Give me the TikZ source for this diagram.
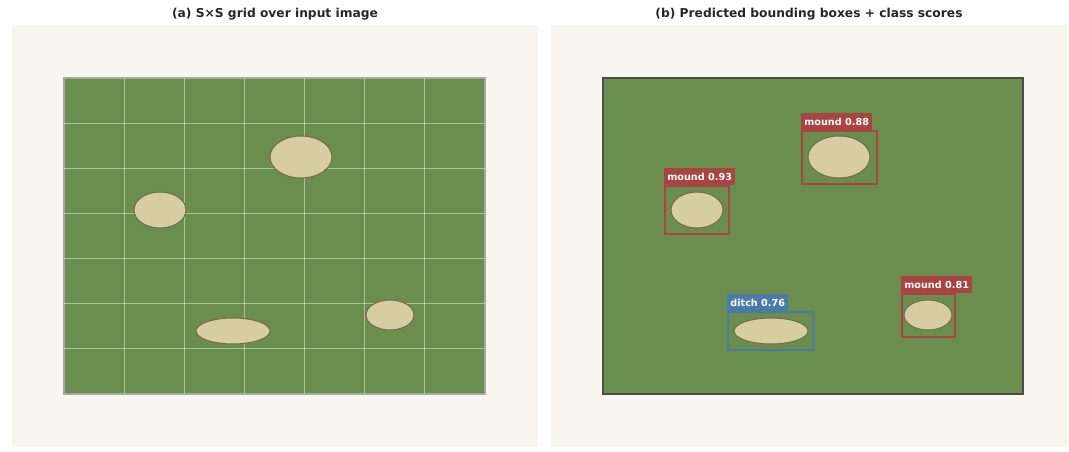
\documentclass[tikz,border=0pt]{standalone}
\usepackage{fontspec}
\setmainfont{DejaVu Sans}
\usetikzlibrary{shapes.geometric}
\definecolor{panelbg}{HTML}{F8F5EF}
\definecolor{field}{HTML}{6A8E4E}
\definecolor{moundfill}{HTML}{D6CDA4}
\definecolor{moundedge}{HTML}{7A6848}
\definecolor{redbox}{HTML}{A94442}
\definecolor{bluebox}{HTML}{4A7BA7}
\definecolor{titletext}{HTML}{262626}
\tikzset{
  panel/.style={fill=panelbg, draw=none},
  fieldbox/.style={fill=field, line width=1.2bp},
  gridline/.style={draw=white, draw opacity=0.45, line width=1.2bp},
  feat/.style={ellipse, draw=moundedge, fill=moundfill, line width=1bp, inner sep=0pt},
  det/.style={rectangle, draw=#1, line width=1.6bp, fill=none, inner sep=0pt},
  tag/.style={rectangle, fill=#1, text=white, font=\bfseries\fontsize{9.7}{11}\selectfont, inner xsep=3bp, inner ysep=0pt, minimum height=17bp, anchor=south west},
  ptitle/.style={font=\bfseries\fontsize{12.3}{14}\selectfont, text=titletext}
}
\begin{document}
\begin{tikzpicture}[x=1bp, y=-1bp]
\useasboundingbox[fill=white] (0,0) rectangle (1069,452);
% panels
\fill[panel] (12,25) rectangle (538,447);
\fill[panel] (551,25) rectangle (1068,447);
\node[ptitle] (ta) at (275,14) {(a) S×S grid over input image};
\node[ptitle] (tb) at (809,14) {(b) Predicted bounding boxes + class scores};
% panel a field
\draw[fieldbox, draw=gray!70] (64,78) rectangle (485,394);
\foreach \i in {1,...,6} {
  \draw[gridline] ({64+\i*60.14},78) -- ({64+\i*60.14},394);
  \draw[gridline] (64,{78+\i*45.14}) -- (485,{78+\i*45.14});
}
\node[feat, minimum width=62bp, minimum height=42bp] (a1) at (301,157) {};
\node[feat, minimum width=52bp, minimum height=36bp] (a2) at (160,210) {};
\node[feat, minimum width=74bp, minimum height=26bp] (a3) at (233,331) {};
\node[feat, minimum width=48bp, minimum height=30bp] (a4) at (390,315) {};
% panel b field
\draw[fieldbox, draw=black!70] (603,78) rectangle (1023,394);
\node[feat, minimum width=62bp, minimum height=42bp] (b1) at (839,157) {};
\node[feat, minimum width=52bp, minimum height=36bp] (b2) at (697,210) {};
\node[feat, minimum width=74bp, minimum height=26bp] (b3) at (771,331) {};
\node[feat, minimum width=48bp, minimum height=30bp] (b4) at (928,315) {};
% detections
\node[det=redbox, minimum width=75bp, minimum height=53bp] (d1) at (839.5,157.5) {};
\node[det=redbox, minimum width=64bp, minimum height=48bp] (d2) at (697,210) {};
\node[det=bluebox, minimum width=85bp, minimum height=38bp] (d3) at (770.5,331) {};
\node[det=redbox, minimum width=53bp, minimum height=43bp] (d4) at (928.5,315.5) {};
\node[tag=redbox] (l1) at (d1.north west) {mound 0.88};
\node[tag=redbox] (l2) at (d2.north west) {mound 0.93};
\node[tag=bluebox] (l3) at (d3.north west) {ditch 0.76};
\node[tag=redbox] (l4) at (d4.north west) {mound 0.81};
\end{tikzpicture}
\end{document}
